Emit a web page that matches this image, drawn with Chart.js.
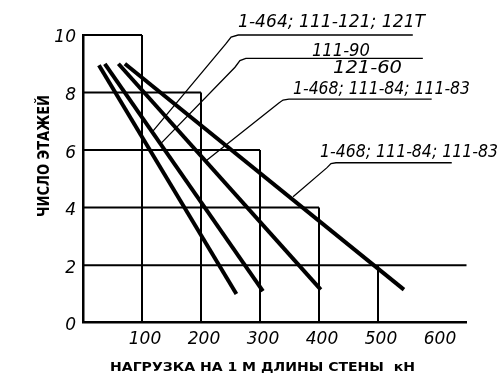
<!DOCTYPE html>
<html>
<head>
<meta charset="utf-8">
<script src="https://cdn.jsdelivr.net/npm/chart.js@4"></script>
<style>
  html, body { margin: 0; padding: 0; background: #fff; }
  canvas { display: block; }
</style>
</head>
<body>
<canvas id="chart" width="500" height="392"></canvas>
<script>
// tick labels
const xTickValues = [100, 200, 300, 400, 500, 600];
const yTickValues = [0, 2, 4, 6, 8, 10];

// stepped frame: floors limit at each load step
const stepLoads = [100, 200, 300, 400, 500];
const stepFloors = [10, 8, 6, 4, 2];
const stepLineEnds = [100, 200, 300, 400, 650];

// the four straight lines (load kN -> number of floors)
const lineStartLoads = [27, 37, 60, 71];
const lineStartFloors = [8.95, 9.0, 9.0, 9.0];
const lineEndLoads = [260, 305, 403, 544];
const lineEndFloors = [1.0, 1.1, 1.15, 1.15];

// leader lines to the labels
const leaders = [
  [[116, 6.6], [242, 9.69], [251, 9.93], [263, 10.0], [559, 10.0]],
  [[133, 6.25], [257.6, 8.88], [266, 9.11], [276, 9.19], [576, 9.19]],
  [[207, 5.6], [332, 7.64], [339, 7.74], [349, 7.77], [591, 7.77]],
  [[356, 4.38], [413.6, 5.39], [420.3, 5.53], [428.8, 5.56], [625, 5.56]],
];

// label texts and where they sit (load from..to, floors at centre)
const labelTexts = [
  "1-464; 111-121; 121T",
  "111-90",
  "121-60",
  "1-468; 111-84; 111-83",
  "1-468; 111-84; 111-83",
];
const labelStartLoads = [262.7, 388, 423.7, 356, 401.7];
const labelEndLoads = [579.7, 486.4, 540.7, 655.9, 703.4];
const labelFloors = [10.52, 9.51, 8.9, 8.18, 5.97];

const xTitle = "НАГРУЗКА НА 1 М ДЛИНЫ СТЕНЫ  кН";
const yTitle = "ЧИСЛО ЭТАЖЕЙ";

const seg = (pts, width) => ({
  data: pts.map((p) => ({ x: p[0], y: p[1] })),
  showLine: true,
  borderColor: "#000",
  borderWidth: width,
  pointRadius: 0,
  fill: false,
  clip: false,
  tension: 0,
  borderCapStyle: "butt",
});

const datasets = [];
stepLoads.forEach((load, i) => {
  datasets.push(seg([[0, stepFloors[i]], [stepLineEnds[i], stepFloors[i]]], 2));
  datasets.push(seg([[load, 0], [load, stepFloors[i]]], 2));
});
lineStartLoads.forEach((x0, i) => {
  datasets.push(
    seg([[x0, lineStartFloors[i]], [lineEndLoads[i], lineEndFloors[i]]], 4)
  );
});
leaders.forEach((pts) => datasets.push(seg(pts, 1.3)));

const drawFitted = (ctx, text, x, yMid, width, font, capH) => {
  ctx.save();
  ctx.font = font;
  const w = ctx.measureText(text).width;
  ctx.translate(x, yMid + capH / 2);
  ctx.scale(width / w, 1);
  ctx.textAlign = "left";
  ctx.textBaseline = "alphabetic";
  ctx.fillStyle = "#000";
  ctx.fillText(text, 0, 0);
  ctx.restore();
};

const textPlugin = {
  id: "textPlugin",
  afterDraw: (chart) => {
    const { ctx, scales } = chart;
    const xs = scales.x;
    const ys = scales.y;

    labelTexts.forEach((t, i) => {
      const x1 = xs.getPixelForValue(labelStartLoads[i]);
      const x2 = xs.getPixelForValue(labelEndLoads[i]);
      const y = ys.getPixelForValue(labelFloors[i]);
      drawFitted(ctx, t, x1, y, x2 - x1, 'italic 18px "DejaVu Sans"', 13);
    });

    // x axis title
    drawFitted(ctx, xTitle, 110, 366, 305, 'bold 13px "DejaVu Sans"', 9.5);

    // y axis title, rotated
    ctx.save();
    ctx.translate(43.5, 156);
    ctx.rotate(-Math.PI / 2);
    drawFitted(ctx, yTitle, -61, 0, 122, 'bold 16px "DejaVu Sans"', 11.7);
    ctx.restore();
  },
};

const tickFont = { family: "DejaVu Sans", size: 17, style: "italic" };

new Chart(document.getElementById("chart").getContext("2d"), {
  type: "scatter",
  data: { datasets },
  options: {
    responsive: false,
    animation: false,
    events: [],
    layout: { padding: { top: 35, right: 33.5, left: 0, bottom: 0 } },
    plugins: { legend: { display: false }, tooltip: { enabled: false } },
    scales: {
      x: {
        type: "linear",
        min: 0,
        max: 650,
        grid: { display: false, drawTicks: false },
        border: { display: true, color: "#000", width: 2.5 },
        afterBuildTicks: (s) => {
          s.ticks = xTickValues.map((v) => ({ value: v }));
        },
        afterFit: (s) => {
          s.height = 69.3;
        },
        ticks: {
          color: "#000",
          font: tickFont,
          padding: 7,
          labelOffset: 3,
          maxRotation: 0,
          autoSkip: false,
        },
      },
      y: {
        type: "linear",
        min: 0,
        max: 10,
        grid: { display: false, drawTicks: false },
        border: { display: true, color: "#000", width: 2.5 },
        afterBuildTicks: (s) => {
          s.ticks = yTickValues.map((v) => ({ value: v }));
        },
        afterFit: (s) => {
          s.width = 83;
        },
        ticks: {
          color: "#000",
          font: tickFont,
          padding: 7,
          labelOffset: 3,
        },
      },
    },
  },
  plugins: [textPlugin],
});
</script>
</body>
</html>
